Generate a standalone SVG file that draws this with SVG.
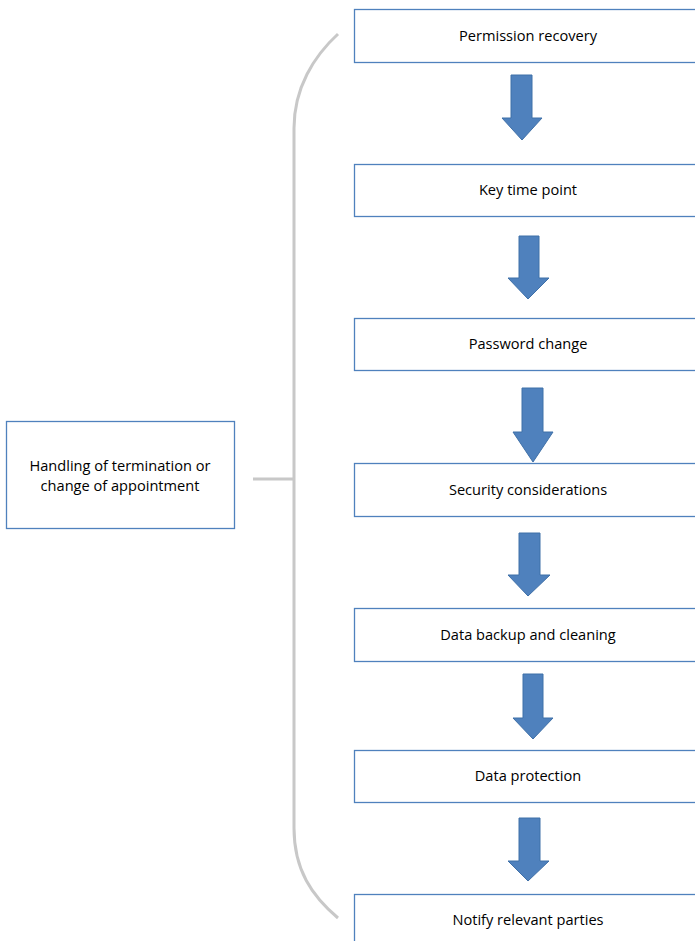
<svg xmlns="http://www.w3.org/2000/svg" width="695" height="941" viewBox="0 0 695 941">
<style>
.box{fill:#ffffff;stroke:#4f81bd;stroke-width:1.3}
.t{font-family:"Open Sans","Liberation Sans",sans-serif;font-size:14.6px;fill:#000000;text-anchor:middle}
.arr{fill:#4f81bd;stroke:#3f70a8;stroke-width:1}
.brace{fill:none;stroke:#c8c8c8;stroke-width:3}
</style>
<rect width="695" height="941" fill="#ffffff"/>
<g id="connectors">
<path class="brace" d="M338,34 C314,56 294,88 294,128 L294,828 C294,870 312,896 338,918"/>
<path class="brace" d="M253,479 L294,479"/>
<polygon class="arr" points="511,75 532,75 532,118 542,118 522,140 502,118 511,118"/>
<polygon class="arr" points="519,236 539,236 539,278 549,278 528,299 508,278 519,278"/>
<polygon class="arr" points="522,388 543,388 543,432 553,432 533,462 513,432 522,432"/>
<polygon class="arr" points="519,533 540,533 540,575 550,575 528,596 508,575 519,575"/>
<polygon class="arr" points="523,674 543,674 543,718 553,718 533,739 513,718 523,718"/>
<polygon class="arr" points="519,818 540,818 540,861 549,861 528,881 508,861 519,861"/>
</g>
<g id="node-main">
<rect class="box" x="6.5" y="421.5" width="228" height="107"/>
<text class="t" x="120" y="471">Handling of termination or</text>
<text class="t" x="120" y="491">change of appointment</text>
</g>
<g id="node-1">
<rect class="box" x="354.5" y="9.5" width="350" height="53"/>
<text class="t" x="528" y="41">Permission recovery</text>
</g>
<g id="node-2">
<rect class="box" x="354.5" y="164.5" width="350" height="52"/>
<text class="t" x="528" y="195">Key time point</text>
</g>
<g id="node-3">
<rect class="box" x="354.5" y="318.5" width="350" height="52"/>
<text class="t" x="528" y="349">Password change</text>
</g>
<g id="node-4">
<rect class="box" x="354.5" y="463.5" width="350" height="53"/>
<text class="t" x="528" y="495">Security considerations</text>
</g>
<g id="node-5">
<rect class="box" x="354.5" y="608.5" width="350" height="53"/>
<text class="t" x="528" y="640">Data backup and cleaning</text>
</g>
<g id="node-6">
<rect class="box" x="354.5" y="750.5" width="350" height="52"/>
<text class="t" x="528" y="781">Data protection</text>
</g>
<g id="node-7">
<rect class="box" x="354.5" y="894.5" width="350" height="60"/>
<text class="t" x="528" y="925">Notify relevant parties</text>
</g>
</svg>
